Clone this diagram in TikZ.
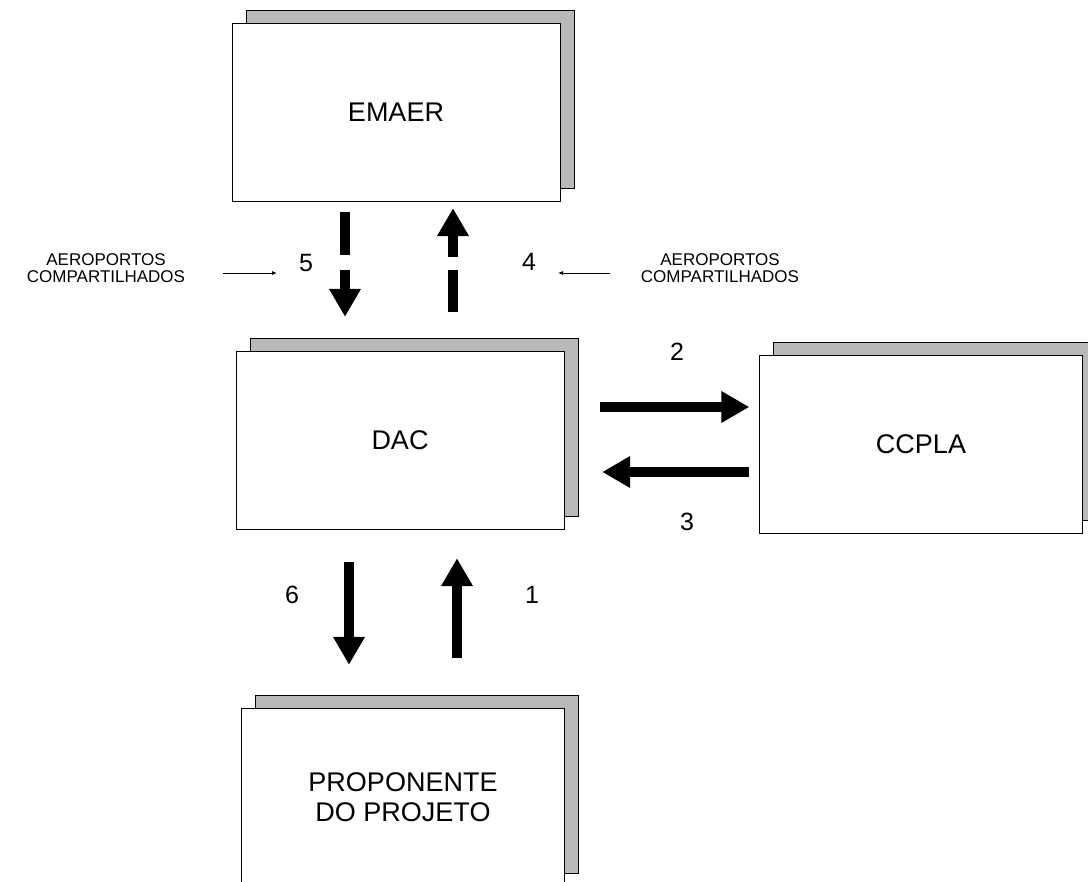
\documentclass[tikz,border=0pt]{standalone}
\usepackage{fontspec}
\setmainfont{Liberation Sans}
\usetikzlibrary{shadows,arrows.meta,calc}

\begin{document}
\begin{tikzpicture}[x=1pt, y=-1pt,
	panel/.style={draw, thin, fill=white, minimum width=328pt, minimum height=178pt,
		inner sep=0pt, align=center, font=\fontsize{27}{30}\selectfont,
		copy shadow={shadow xshift=14pt, shadow yshift=13pt, draw=black, semithick,
			fill=gray!55}},
	fat/.style={line width=10pt, -{Triangle[length=28pt,width=30pt]}},
	pointer/.style={line width=0.8pt, -{Latex[length=5pt,width=4pt]}},
	num/.style={font=\fontsize{25}{25}\selectfont},
	note/.style={align=center, font=\fontsize{17}{17}\selectfont}]
	\useasboundingbox (0, 0) rectangle (1088, 882);

	\node[panel] (emaer) at (396, 112) {EMAER};
	\node[panel] (dac) at (400, 440) {DAC};
	\node[panel, minimum width=323pt] (ccpla) at (921, 444) {CCPLA};
	\node[panel, minimum width=323pt] (prop) at (403, 797) {PROPONENTE\\DO PROJETO};

	% ends of the arrows
	\coordinate (a5s) at ($(emaer.south)+(-51, 11)$);
	\coordinate (a5e) at ($(dac.north)+(-55, -34)$);
	\coordinate (a4s) at ($(dac.north)+(53, -39)$);
	\coordinate (a4e) at ($(emaer.south)+(57, 7)$);
	\coordinate (a2s) at ($(dac.east)+(36, -33)$);
	\coordinate (a2e) at ($(ccpla.west)+(-10, -37)$);
	\coordinate (a3s) at ($(ccpla.west)+(-10, 28)$);
	\coordinate (a3e) at ($(dac.east)+(38, 32)$);
	\coordinate (a6s) at ($(dac.south)+(-51, 33)$);
	\coordinate (a6e) at ($(prop.north)+(-54, -43)$);
	\coordinate (a1s) at ($(prop.north)+(54, -50)$);
	\coordinate (a1e) at ($(dac.south)+(57, 29)$);

	\draw[fat, dash pattern=on 43pt off 15pt on 300pt] (a5s) -- (a5e);
	\draw[fat, dash pattern=on 42pt off 13pt on 300pt] (a4s) -- (a4e);
	\draw[fat] (a2s) -- (a2e);
	\draw[fat] (a3s) -- (a3e);
	\draw[fat] (a6s) -- (a6e);
	\draw[fat] (a1s) -- (a1e);

	\node[num] (n5) at (306, 263) {5};
	\node[num] (n4) at (529, 262) {4};
	\node[num] (n2) at (677, 352) {2};
	\node[num] (n3) at (687, 522) {3};
	\node[num] (n6) at (292, 595) {6};
	\node[num] (n1) at (532, 595) {1};

	\node[note] (lnote) at (106, 268) {AEROPORTOS\\COMPARTILHADOS};
	\node[note] (rnote) at (720, 268) {AEROPORTOS\\COMPARTILHADOS};
	\coordinate (p5s) at (223, 273);
	\coordinate (p5e) at (277, 273);
	\coordinate (p4s) at (610, 273);
	\coordinate (p4e) at (558, 273);
	\draw[pointer] (p5s) -- (p5e);
	\draw[pointer] (p4s) -- (p4e);
\end{tikzpicture}
\end{document}
